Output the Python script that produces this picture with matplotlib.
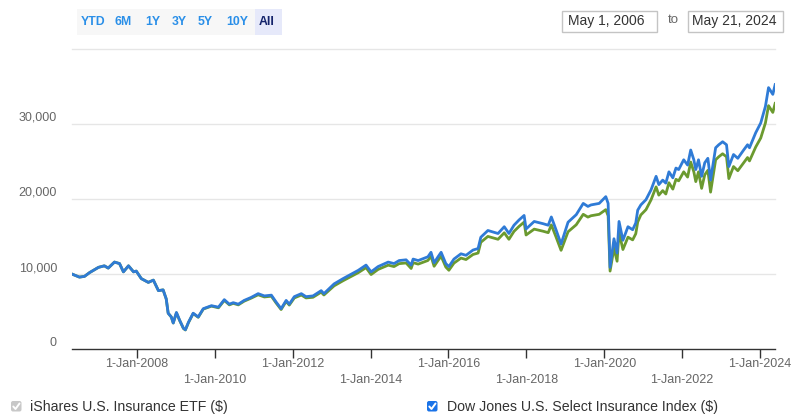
import pandas as pd
import matplotlib
matplotlib.use("Agg")
import matplotlib.pyplot as plt
from matplotlib.patches import FancyBboxPatch, Rectangle

plt.rcParams['font.family'] = ['Liberation Sans', 'DejaVu Sans']

W, H = 806, 416

# growth of 10,000 (fractional year, value)
years = [
    2006.33, 2006.52, 2006.65, 2006.78, 2007.01, 2007.16, 2007.26, 2007.42, 2007.55, 2007.65,
    2007.78, 2007.91, 2007.98, 2008.11, 2008.29, 2008.42, 2008.55, 2008.67, 2008.75, 2008.80,
    2008.88, 2008.93, 2009.01, 2009.09, 2009.19, 2009.24, 2009.32, 2009.44, 2009.57, 2009.70,
    2009.91, 2010.09, 2010.24, 2010.37, 2010.47, 2010.60, 2010.75, 2010.93, 2011.11, 2011.27,
    2011.45, 2011.57, 2011.70, 2011.83, 2011.91, 2012.04, 2012.22, 2012.34, 2012.52, 2012.73,
    2012.80, 2013.06, 2013.29, 2013.50, 2013.68, 2013.88, 2014.01, 2014.19, 2014.45, 2014.60,
    2014.73, 2014.91, 2015.04, 2015.09, 2015.22, 2015.47, 2015.55, 2015.63, 2015.73, 2015.81,
    2015.93, 2016.01, 2016.14, 2016.32, 2016.45, 2016.63, 2016.76, 2016.83, 2017.01, 2017.27,
    2017.43, 2017.55, 2017.68, 2017.81, 2017.94, 2017.99, 2018.20, 2018.43, 2018.56, 2018.64,
    2018.76, 2018.89, 2019.07, 2019.28, 2019.46, 2019.58, 2019.66, 2019.87, 2020.04, 2020.10,
    2020.15, 2020.25, 2020.33, 2020.38, 2020.48, 2020.61, 2020.73, 2020.81, 2020.86, 2020.94,
    2021.07, 2021.20, 2021.33, 2021.40, 2021.50, 2021.58, 2021.66, 2021.76, 2021.84, 2021.91,
    2022.04, 2022.14, 2022.22, 2022.30, 2022.35, 2022.42, 2022.50, 2022.58, 2022.66, 2022.73,
    2022.86, 2022.94, 2023.04, 2023.14, 2023.20, 2023.32, 2023.43, 2023.58, 2023.68, 2023.73,
    2023.89, 2024.02, 2024.14, 2024.22, 2024.33, 2024.39]

index_vals = [
    10000, 9600, 9700, 10200, 10900, 11100, 10800, 11600, 11400, 10300,
    11100, 10300, 10400, 9400, 8900, 9200, 7800, 7900, 6700, 4800,
    4300, 3500, 4900, 3900, 2800, 2600, 3600, 4800, 4300, 5400,
    5800, 5600, 6600, 6000, 6200, 6000, 6500, 6900, 7400, 7100,
    7200, 6300, 5400, 6500, 6000, 7000, 7400, 7000, 7100, 7800,
    7400, 8700, 9400, 10000, 10500, 11200, 10300, 11000, 11600, 11400,
    11800, 11900, 11200, 12000, 11800, 12300, 12900, 11500, 12300, 12900,
    11400, 11000, 12000, 12700, 12500, 13200, 13400, 14900, 15800, 15400,
    16300, 15400, 16500, 17200, 17800, 16000, 17000, 16700, 16500, 17600,
    15900, 14000, 16900, 17900, 19400, 19000, 19200, 19400, 20300, 19400,
    10900, 14700, 12800, 17000, 14500, 16300, 15900, 16800, 18500, 19200,
    19900, 21200, 23000, 21900, 22500, 22100, 23600, 22800, 24100, 23900,
    25200, 24500, 26500, 25200, 23900, 25200, 23000, 24800, 25400, 22500,
    26800, 27200, 27600, 27200, 24300, 25900, 25400, 26500, 27200, 26800,
    28800, 30100, 32300, 34800, 33900, 35200]

etf_vals = [
    10000, 9600, 9700, 10200, 10900, 11100, 10800, 11600, 11400, 10300,
    11100, 10300, 10400, 9400, 8900, 9200, 7800, 7900, 6700, 4800,
    4300, 3500, 4850, 3860, 2770, 2570, 3560, 4750, 4260, 5350,
    5740, 5520, 6500, 5910, 6110, 5910, 6400, 6800, 7250, 6960,
    7060, 6170, 5290, 6370, 5880, 6830, 7220, 6830, 6920, 7600,
    7220, 8440, 9120, 9700, 10190, 10860, 9940, 10620, 11190, 11000,
    11390, 11480, 10750, 11520, 11330, 11810, 12380, 11040, 11810, 12380,
    10940, 10510, 11460, 12130, 11940, 12610, 12800, 14230, 15010, 14630,
    15490, 14630, 15680, 16340, 16910, 15200, 15980, 15700, 15510, 16540,
    14950, 13160, 15630, 16560, 17950, 17580, 17760, 17950, 18570, 17750,
    10400, 13450, 11710, 15560, 13270, 14910, 14550, 15370, 16930, 17870,
    18570, 19870, 21600, 20500, 21100, 20650, 22150, 21300, 22600, 22400,
    23600, 22900, 24900, 23600, 22300, 23600, 21400, 23200, 23800, 20900,
    25200, 25600, 26000, 25600, 22700, 24300, 23750, 24800, 25500, 25050,
    26900, 28100, 30100, 32400, 31500, 32700]

tick_years = [2008, 2010, 2012, 2014, 2016, 2018, 2020, 2022, 2024]
y_ticks = [0, 10000, 20000, 30000]
buttons = ["YTD", "6M", "1Y", "3Y", "5Y", "10Y", "All"]
start_label = "May 1, 2006"
end_label = "May 21, 2024"
legend_labels = ["iShares U.S. Insurance ETF ($)", "Dow Jones U.S. Select Insurance Index ($)"]


def to_date(y):
    yr = int(y)
    return pd.Timestamp(year=yr, month=1, day=1) + pd.Timedelta(days=(y - yr) * 365.25)


dates = [to_date(y) for y in years]

fig = plt.figure(figsize=(W / 100, H / 100), dpi=100)
ax = fig.add_axes([72 / W, 1 - 349.3 / H, 703 / W, (349.3 - 48.5) / H])

for v in [10000, 20000, 30000, 40000]:
    ax.axhline(v, color='#e6e6e6', lw=1, zorder=0, clip_on=False)

ax.plot(dates, etf_vals, color='#6b9a2f', lw=2.0, zorder=2)
ax.plot(dates, index_vals, color='#2f7bd6', lw=2.0, zorder=3)

ax.set_xlim(pd.Timestamp('2006-05-01'), pd.Timestamp('2024-05-21'))
ax.set_ylim(0, 40000)
for s in ['top', 'right', 'left']:
    ax.spines[s].set_visible(False)
ax.spines['bottom'].set_color('#333333')
ax.spines['bottom'].set_linewidth(1)

tick_dates = [pd.Timestamp(f'{y}-01-01') for y in tick_years]
ax.set_xticks(tick_dates)
ax.set_yticks([])
ax.tick_params(axis='x', length=6.5, width=1, color='#333333', labelbottom=False)

# staggered date labels
for i, d in enumerate(tick_dates):
    off = -15 if i % 2 == 0 else -31
    ax.annotate(f'1-Jan-{d.year}', xy=(d, 0), xycoords=('data', 'axes fraction'),
                xytext=(0, off), textcoords='offset pixels', ha='center', va='center',
                fontsize=9, color='#666666')

for v in y_ticks:
    ax.annotate(f'{v:,}', xy=(0, v), xycoords=('axes fraction', 'data'),
                xytext=(-15, 6), textcoords='offset pixels', ha='right', va='center',
                fontsize=9, color='#666666')

# overlay in pixel coords for the widgets
ov = fig.add_axes([0, 0, 1, 1])
ov.set_xlim(0, W)
ov.set_ylim(H, 0)
ov.axis('off')

# range selector
ov.add_patch(Rectangle((77, 9), 205, 26, fc='#f7f7f7', ec='none'))
ov.add_patch(Rectangle((255, 9), 27, 26, fc='#e6e9fa', ec='none'))
btn_x = [93, 123, 153, 179, 205, 237, 267]
for lab, bx in zip(buttons, btn_x):
    ov.text(bx, 22, lab, ha='center', va='center', fontsize=8.8, fontweight='bold',
            color='#14236b' if lab == 'All' else '#2a8fe8')

# date inputs
ov.add_patch(Rectangle((562, 10.5), 95, 21, fc='white', ec='#c4c4c4', lw=1))
ov.add_patch(Rectangle((688, 10.5), 95, 21, fc='white', ec='#c4c4c4', lw=1))
ov.text(606, 21, start_label, ha='center', va='center', fontsize=10, color='#333333')
ov.text(673, 20, 'to', ha='center', va='center', fontsize=9.5, color='#666666')
ov.text(734, 21, end_label, ha='center', va='center', fontsize=10, color='#333333')

# legend with checkboxes
for bx, col in [(11, '#c8c8c8'), (427, '#1a73e8')]:
    ov.add_patch(FancyBboxPatch((bx, 401), 10.5, 10.5,
                                boxstyle='round,pad=0,rounding_size=2', fc=col, ec='none'))
    ov.plot([bx + 2.3, bx + 4.5, bx + 8.5], [406.5, 409, 403.5], color='white', lw=1.4,
            solid_capstyle='round')
ov.text(30, 407, legend_labels[0], ha='left', va='center', fontsize=10.2, color='#333333')
ov.text(447, 407, legend_labels[1], ha='left', va='center', fontsize=10.2, color='#333333')

fig.savefig('out.png', dpi=100)
